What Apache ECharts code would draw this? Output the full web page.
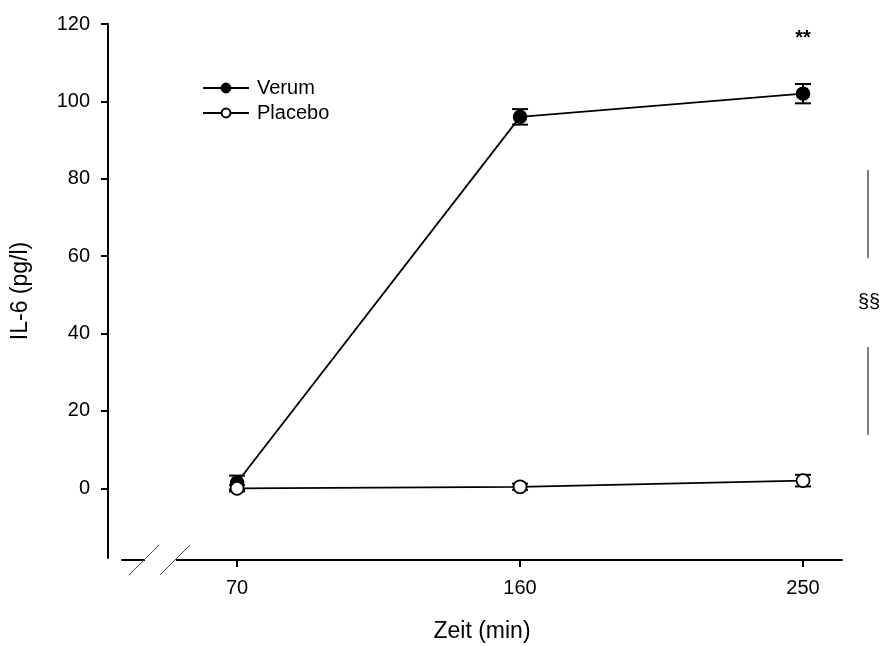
<!DOCTYPE html>
<html lang="de">
<head>
  <meta charset="UTF-8">
  <script src="https://cdn.jsdelivr.net/npm/echarts@6/dist/echarts.min.js"></script>
  <title>IL-6</title>
</head>
<body>
  <div id="chart"></div>
</body>
<style>
  html, body {
    padding: 0;
    margin: 0;
    background: #fff;
  }
  #chart {
    width: 883px;
    height: 646px;
  }
</style>
<script>
// Zeitpunkte (min) und Messwerte
const times = [70, 160, 250];
const verumMean = [1.5, 96, 102];
const verumErr = [1.8, 2, 2.5];
const placeboMean = [0, 0.4, 2];
const placeboErr = [0.8, 0.8, 1.5];

const yTicks = [0, 20, 40, 60, 80, 100, 120];

const font = 'Liberation Sans, Arial, sans-serif';

const pairs = (xs, ys) => xs.map((x, i) => [x, ys[i]]);
const errRows = (xs, ys, es) => xs.map((x, i) => [x, ys[i], es[i]]);

function errorBar(params, api) {
  const x = api.value(0);
  const y = api.value(1);
  const e = api.value(2);
  const top = api.coord([x, y + e]);
  const bot = api.coord([x, y - e]);
  const w = 8;
  const style = { stroke: '#000', lineWidth: 2 };
  return {
    type: 'group',
    children: [
      { type: 'line', shape: { x1: top[0], y1: top[1], x2: bot[0], y2: bot[1] }, style },
      { type: 'line', shape: { x1: top[0] - w, y1: top[1], x2: top[0] + w, y2: top[1] }, style },
      { type: 'line', shape: { x1: bot[0] - w, y1: bot[1], x2: bot[0] + w, y2: bot[1] }, style }
    ]
  };
}

const option = {
  backgroundColor: '#fff',
  animation: false,
  textStyle: { fontFamily: font, color: '#000' },
  grid: { left: 122, right: 41, top: 24, bottom: 88, outerBoundsMode: 'none', containLabel: false },
  legend: {
    orient: 'vertical',
    left: 197,
    top: 73,
    itemWidth: 46,
    itemHeight: 11,
    itemGap: 5,
    textStyle: { fontSize: 20, color: '#000', fontFamily: font, padding: [0, 0, 0, 3] },
    data: ['Verum', 'Placebo']
  },
  xAxis: {
    type: 'value',
    min: 33.4,
    max: 262.4,
    offset: 2,
    name: 'Zeit (min)',
    nameLocation: 'middle',
    nameGap: 60,
    nameTextStyle: { fontSize: 23, color: '#000', fontFamily: font },
    splitLine: { show: false },
    axisLine: { onZero: false, lineStyle: { color: '#000', width: 2 } },
    axisTick: { show: true, length: 7, lineStyle: { color: '#000', width: 2 }, customValues: times },
    axisLabel: { fontSize: 20, color: '#000', margin: 18, customValues: times }
  },
  yAxis: {
    type: 'value',
    min: -18,
    max: 120,
    offset: 14,
    name: 'IL-6 (pg/l)',
    nameLocation: 'middle',
    nameGap: 76,
    nameTextStyle: { fontSize: 23, color: '#000', fontFamily: font },
    splitLine: { show: false },
    axisLine: { show: true, onZero: false, lineStyle: { color: '#000', width: 2 } },
    axisTick: { show: true, length: 7, lineStyle: { color: '#000', width: 2 }, customValues: yTicks },
    axisLabel: { fontSize: 20, color: '#000', margin: 18, customValues: yTicks }
  },
  graphic: [
    // Achsenunterbrechung
    { type: 'rect', z: 100, shape: { x: 145, y: 555, width: 31, height: 10 }, style: { fill: '#fff' } },
    { type: 'line', z: 101, shape: { x1: 129, y1: 575, x2: 159, y2: 545 }, style: { stroke: '#444', lineWidth: 1 } },
    { type: 'line', z: 101, shape: { x1: 160, y1: 575, x2: 190, y2: 545 }, style: { stroke: '#444', lineWidth: 1 } },
    // Signifikanzen
    { type: 'text', z: 100, x: 803, y: 38, style: { text: '**', font: 'bold 20px ' + font, fill: '#000', align: 'center', verticalAlign: 'middle' } },
    { type: 'line', z: 100, shape: { x1: 868, y1: 170, x2: 868, y2: 258 }, style: { stroke: '#555', lineWidth: 1.5 } },
    { type: 'text', z: 100, x: 869, y: 302, style: { text: '§§', font: '20px ' + font, fill: '#000', align: 'center', verticalAlign: 'middle' } },
    { type: 'line', z: 100, shape: { x1: 868, y1: 347, x2: 868, y2: 435 }, style: { stroke: '#555', lineWidth: 1.5 } }
  ],
  series: [
    {
      name: 'Verum err',
      type: 'custom',
      renderItem: errorBar,
      data: errRows(times, verumMean, verumErr),
      z: 1,
      clip: false
    },
    {
      name: 'Placebo err',
      type: 'custom',
      renderItem: errorBar,
      data: errRows(times, placeboMean, placeboErr),
      z: 1,
      clip: false
    },
    {
      name: 'Verum',
      type: 'line',
      data: pairs(times, verumMean),
      symbol: 'circle',
      symbolSize: 13,
      showAllSymbol: true,
      lineStyle: { color: '#000', width: 1.8 },
      itemStyle: { color: '#000', borderColor: '#000', borderWidth: 1.5 },
      z: 3
    },
    {
      name: 'Placebo',
      type: 'line',
      data: pairs(times, placeboMean),
      symbol: 'circle',
      symbolSize: 13,
      showAllSymbol: true,
      lineStyle: { color: '#000', width: 1.8 },
      itemStyle: { color: '#fff', borderColor: '#000', borderWidth: 1.8 },
      z: 4
    }
  ]
};

const chartDom = document.getElementById('chart');
const myChart = echarts.init(chartDom);
option && myChart.setOption(option);
</script>
</html>
